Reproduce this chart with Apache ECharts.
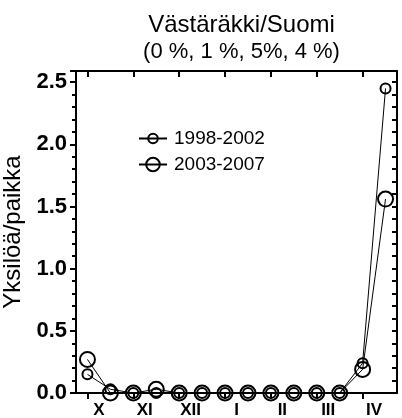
<!DOCTYPE html>
<html>
<head>
<meta charset="utf-8">
<script src="https://cdn.jsdelivr.net/npm/echarts@6/dist/echarts.min.js"></script>
<style>
  html, body { margin: 0; padding: 0; background: #fff; }
  #chart { width: 402px; height: 418px; }
</style>
</head>
<body>
<div id="chart"></div>
<script>
// Half-month periods, October through April (two per month)
const periods = ['X-1', 'X-2', 'XI-1', 'XI-2', 'XII-1', 'XII-2', 'I-1', 'I-2',
                 'II-1', 'II-2', 'III-1', 'III-2', 'IV-1', 'IV-2'];
const months = ['X', 'XI', 'XII', 'I', 'II', 'III', 'IV'];

// Individuals per site
const series1998 = [0.15, 0.03, 0, 0, 0, 0, 0, 0, 0, 0, 0, 0, 0.24, 2.45];
const series2003 = [0.27, 0, 0, 0.03, 0, 0, 0, 0, 0, 0, 0, 0, 0.19, 1.56];

const seriesNames = ['1998-2002', '2003-2007'];
const yTicks = [0, 0.5, 1.0, 1.5, 2.0, 2.5];

const FONT = 'Liberation Sans, Arial, sans-serif';
const INK = '#000';

const chart = echarts.init(document.getElementById('chart'), null, { renderer: 'canvas' });

const yMax = 2.59;

chart.setOption({
  animation: false,
  backgroundColor: '#fff',
  title: [{
    text: 'Västäräkki/Suomi',
    left: 236.5,
    top: 8,
    textAlign: 'center',
    textStyle: { fontFamily: FONT, fontSize: 24, fontWeight: 'normal', color: INK }
  }, {
    text: '(0 %, 1 %, 5%, 4 %)',
    left: 236.5,
    top: 36,
    textAlign: 'center',
    textStyle: { fontFamily: FONT, fontSize: 22, fontWeight: 'normal', color: INK }
  }],
  legend: [{
    data: [seriesNames[0]],
    orient: 'vertical',
    left: 133,
    top: 124,
    itemWidth: 28,
    itemHeight: 12,
    selectedMode: false,
    textStyle: { fontFamily: FONT, fontSize: 19, color: INK, padding: [0, 0, 0, 2] }
  }, {
    data: [seriesNames[1]],
    orient: 'vertical',
    left: 133,
    top: 150,
    itemWidth: 28,
    itemHeight: 17,
    selectedMode: false,
    textStyle: { fontFamily: FONT, fontSize: 19, color: INK, padding: [0, 0, 0, 2] }
  }],
  grid: { left: 76, right: 5, top: 71, bottom: 25, containLabel: false, outerBoundsMode: 'none' },
  xAxis: [{
    // half-month positions: ticks under each point
    type: 'category',
    data: periods,
    position: 'bottom',
    boundaryGap: true,
    axisLine: { show: true, lineStyle: { color: INK, width: 2 } },
    axisTick: { show: true, alignWithLabel: true, inside: false, length: 6, lineStyle: { color: INK, width: 2 } },
    axisLabel: { show: false },
    splitLine: { show: false }
  }, {
    // month labels centred under each pair of points
    type: 'category',
    data: months,
    position: 'bottom',
    boundaryGap: true,
    axisLine: { show: false },
    axisTick: { show: false },
    axisLabel: { show: true, margin: 9, fontFamily: FONT, fontSize: 17, fontWeight: 'bold', color: INK },
    splitLine: { show: false }
  }, {
    // top frame with inward ticks
    type: 'category',
    data: periods,
    position: 'top',
    boundaryGap: true,
    axisLine: { show: true, lineStyle: { color: INK, width: 2 } },
    axisTick: { show: true, alignWithLabel: true, inside: true, length: 6, lineStyle: { color: INK, width: 2 } },
    axisLabel: { show: false },
    splitLine: { show: false }
  }],
  yAxis: [{
    type: 'value',
    position: 'left',
    min: 0,
    max: yMax,
    interval: 0.5,
    name: 'Yksilöä/paikka',
    nameLocation: 'middle',
    nameGap: 43,
    nameTextStyle: { fontFamily: FONT, fontSize: 24, color: INK },
    axisLine: { show: true, lineStyle: { color: INK, width: 2 } },
    axisTick: { show: true, inside: false, length: 6, lineStyle: { color: INK, width: 2 } },
    minorTick: { show: true, splitNumber: 5, length: 4, lineStyle: { color: INK, width: 2 } },
    axisLabel: {
      show: true, margin: 9, fontFamily: FONT, fontSize: 22, fontWeight: 'bold', color: INK,
      showMaxLabel: false,
      formatter: v => yTicks.some(t => Math.abs(t - v) < 1e-9) ? v.toFixed(1) : ''
    },
    splitLine: { show: false }
  }, {
    type: 'value',
    position: 'right',
    min: 0,
    max: yMax,
    interval: 0.5,
    axisLine: { show: true, lineStyle: { color: INK, width: 2 } },
    axisTick: { show: true, inside: true, length: 5, lineStyle: { color: INK, width: 2 } },
    minorTick: { show: true, splitNumber: 5, length: 5, lineStyle: { color: INK, width: 2 } },
    axisLabel: { show: false },
    splitLine: { show: false }
  }],
  series: [{
    name: seriesNames[0],
    type: 'line',
    xAxisIndex: 0,
    yAxisIndex: 0,
    data: series1998,
    symbol: 'circle',
    symbolSize: 10,
    showAllSymbol: true,
    itemStyle: { color: 'rgba(255,255,255,0)', borderColor: INK, borderWidth: 2 },
    lineStyle: { color: INK, width: 1 },
    z: 3
  }, {
    name: seriesNames[1],
    type: 'line',
    xAxisIndex: 0,
    yAxisIndex: 0,
    data: series2003,
    symbol: 'circle',
    symbolSize: 15,
    showAllSymbol: true,
    itemStyle: { color: 'rgba(255,255,255,0)', borderColor: INK, borderWidth: 2 },
    lineStyle: { color: INK, width: 1 },
    z: 3
  }]
});
</script>
</body>
</html>
